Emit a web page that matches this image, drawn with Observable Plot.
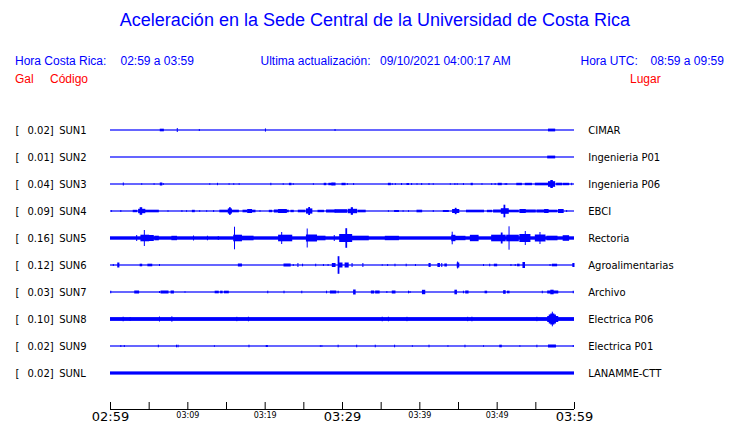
<!DOCTYPE html>
<html>
<head>
<meta charset="utf-8">
<script src="https://cdn.jsdelivr.net/npm/d3@7"></script>
<script src="https://cdn.jsdelivr.net/npm/@observablehq/plot@0.6"></script>
<style>
  html, body { margin: 0; padding: 0; background: #fff; }
  #page { position: relative; width: 740px; height: 423px; overflow: hidden; }
  #header { position: relative; width: 740px; height: 100px; font-family: "Liberation Sans", Arial, sans-serif; }
  #header div { position: absolute; white-space: pre; }
  #chart { height: 323px; }
  #chart svg { display: block; }
  .blue { color: #0000ff; font-size: 12px; line-height: 14px; }
  .red { color: #ff0000; font-size: 12px; line-height: 14px; }
  #title { color: #0000ff; font-size: 18px; line-height: 20px; left: 0; width: 750px; text-align: center; top: 10px; }
  #chart svg rect.burst, #chart svg rect.base { shape-rendering: crispEdges; }
</style>
</head>
<body>
<div id="page">
  <div id="header"></div>
  <div id="chart"></div>
</div>
<script>
// ---------- header texts ----------
const titleText = "Aceleración en la Sede Central de la Universidad de Costa Rica";
const localLabel = "Hora Costa Rica:";
const localRange = "02:59 a 03:59";
const updateLabel = "Ultima actualización:";
const updateValue = "09/10/2021 04:00:17 AM";
const utcLabel = "Hora UTC:";
const utcRange = "08:59 a 09:59";
const colHeaders = ["Gal", "Código", "Lugar"];

// ---------- station data ----------
const stations = ["SUN1","SUN2","SUN3","SUN4","SUN5","SUN6","SUN7","SUN8","SUN9","SUNL"];
const peakGal = [0.02, 0.01, 0.04, 0.09, 0.16, 0.12, 0.03, 0.10, 0.02, 0.02];
const places = ["CIMAR","Ingenieria P01","Ingenieria P06","EBCI","Rectoria","Agroalimentarias","Archivo","Electrica P06","Electrica P01","LANAMME-CTT"];
// background (noise) half amplitude of each trace, relative units
const baseAmp = [0.6, 0.6, 0.6, 0.6, 1.7, 0.6, 0.6, 1.9, 0.6, 1.6];

// bursts: [start minute, end minute, half amplitude]
const sun1 = [[6.5,6.9,1.3],[8.7,8.7,2],[11.55,11.55,1],[20.1,20.1,1.6],[29.1,29.1,1],[56.7,57.5,1.4]];
const sun2 = [[56.6,57.5,1.4]];
const sun3 = [[1.72,1.72,1.5],[4.1,4.1,0.8],[5.7,5.7,0.8],[6.5,6.7,1.5],[6.9,6.9,0.8],[12.9,12.9,0.8],[13.9,13.9,1.2],
  [15.4,15.4,0.8],[16.0,16.0,0.8],[16.7,16.7,0.8],[20.8,20.8,1.2],[22.4,22.4,0.8],[23.2,23.4,1.2],[23.7,23.7,0.8],
  [26.3,26.3,0.8],[27.7,27.9,1.2],[28.3,28.7,1.2],[28.7,29.1,1.5],[30.0,30.4,1.2],[30.7,30.7,0.8],[31.5,31.5,1],
  [36.0,36.25,1.2],[36.5,36.5,0.8],[36.9,36.9,0.8],[37.7,37.7,1],[38.4,38.6,1],[39.0,39.0,1],[39.7,39.7,0.8],
  [40.3,40.3,1],[41.25,41.25,1],[41.8,41.8,0.8],[44.0,44.0,0.8],[44.6,44.6,1],[44.9,44.9,0.8],[45.7,45.7,1],
  [46.7,46.85,1.2],[48.1,48.1,0.8],[49.35,49.35,0.8],[49.8,49.8,1],[50.2,50.6,1.2],[51.1,51.1,1],[51.3,51.3,1],
  [52.6,53.2,1.2],[53.7,54.5,1.2],[55.0,56.7,1.3],[56.7,57.5,2.8],[57.0,57.2,4],[57.75,58.4,1.3],[58.6,59.3,1.2],[59.7,59.7,1.2]];
const sun4 = [[0.2,0.2,0.8],[1.4,1.4,1],[3.0,3.45,1.2],[3.7,4.5,2.2],[3.9,4.1,3.8],[4.5,6.25,1.3],[7.5,7.5,0.8],
  [9.3,9.3,1],[9.9,9.9,0.8],[10.65,10.9,1.2],[11.6,11.6,0.8],[12.5,12.5,0.8],[13.4,13.4,1],[14.2,15.3,1.3],
  [15.3,15.7,2.6],[15.45,15.55,3.8],[15.7,16.6,1.3],[17.2,17.7,1.3],[17.8,18.3,2],[18.3,18.75,1.3],[19.4,19.4,0.8],
  [20.6,20.9,1.2],[21.25,21.8,1.5],[21.8,22.8,2],[22.8,23.05,1.3],[23.4,23.7,1.2],[24.35,25.2,1.3],[25.4,26.1,2.6],
  [25.7,25.8,4],[26.9,27.6,1.2],[28.0,29.1,1.5],[29.1,30.6,1.8],[30.8,31.9,2.2],[31.2,31.35,3.8],[32.1,33.0,1.3],
  [36.0,36.0,0.8],[36.8,37.3,1],[37.9,37.9,0.8],[38.6,38.6,0.8],[39.7,40.3,1.3],[41.8,41.8,1],[43.1,43.75,1],
  [44.3,45.1,2],[44.65,44.75,3.2],[46.1,48.3,1.3],[48.8,49.35,1.2],[49.6,50.6,1.5],[50.6,51.5,2.8],[50.95,51.05,6.3],
  [51.5,52.8,1.3],[53.0,53.7,2],[53.7,55.0,1.5],[55.2,56.7,1.5],[56.2,56.6,2],[56.7,57.8,1.3],[58.0,58.6,2],[59.05,59.05,1]];
const sun5 = [[3.45,3.45,3],[4.0,5.0,3.3],[4.44,4.44,8],[5.0,5.6,3],[5.8,6.25,2.3],[8.0,8.6,2.2],[10.8,10.8,2.5],
  [12.6,12.6,2.3],[14.0,14.0,2],[16.0,17.0,3.3],[16.1,16.1,11.3],[17.0,18.5,2.3],[21.8,23.5,3.3],[22.2,22.2,6],
  [25.4,26.7,3.5],[25.5,25.5,9.5],[26.7,27.8,2.3],[29.0,29.0,3],[29.7,31.25,4],[30.5,30.6,9.8],[31.25,33.4,2.3],
  [35.6,37.3,2.2],[44.2,44.6,3.2],[44.25,44.25,6.3],[44.6,45.9,2.2],[46.6,47.6,3.2],[49.35,51.1,3.3],[50.6,50.7,5.5],
  [51.6,51.6,11.7],[51.3,52.8,3.3],[53.0,54.3,4],[53.7,53.7,7],[55.0,56.25,3.5],[55.6,55.6,6],[56.5,57.8,2.3],[58.6,59.3,2.8]];
const sun6 = [[0.43,0.43,1],[1.0,1.15,2.5],[3.9,4.1,1.3],[4.9,5.4,1.3],[6.4,6.4,1],[16.6,17.0,1.5],[22.5,23.3,1.5],
  [23.7,23.7,1],[24.3,24.3,2],[24.9,24.9,1.3],[26.6,26.6,1.3],[27.6,27.6,1],[28.2,28.2,1],[28.75,29.1,2],
  [29.5,29.6,8.8],[29.6,30.0,2.5],[30.4,30.8,2.5],[31.3,31.3,2],[32.7,32.7,2],[35.2,35.2,0.8],[35.9,35.9,1],
  [36.85,36.85,1.3],[38.3,38.3,1.3],[39.5,39.5,1],[41.25,41.4,2],[42.4,42.6,2],[42.9,42.9,2],[43.3,43.5,1.5],
  [44.9,45.1,2.5],[44.95,44.95,3.5],[48.3,48.3,1],[49.1,49.1,1.3],[49.7,50.0,1.3],[51.85,51.85,1],[52.4,52.4,1],
  [52.7,52.9,1.3],[53.4,53.6,3],[56.9,56.9,1],[57.2,57.75,1.3],[59.85,60,2]];
const sun7 = [[0.1,0.1,1.3],[3.2,3.7,1.5],[6.4,6.4,1],[6.6,7.5,1.5],[7.9,8.2,1.5],[9.7,9.7,0.7],[13.6,14.0,1.3],
  [14.3,14.5,1.3],[14.8,15.3,1.3],[20.4,20.4,1.3],[22.5,22.5,1.3],[24.8,24.8,1.3],[28.0,28.0,1.3],[28.5,29.2,1.5],
  [29.5,29.5,1.3],[31.5,31.7,2.5],[33.8,34.1,1.5],[34.35,34.8,1.5],[35.8,35.8,1],[36.5,36.85,1.5],[38.6,38.6,1.3],
  [38.8,38.8,1],[40.4,40.7,2.2],[44.6,44.8,2.3],[45.7,45.7,1.3],[46.0,46.3,1.5],[48.5,48.7,1.3],[50.9,51.1,1.8],
  [51.4,51.6,1.3],[55.9,55.9,1.3],[56.6,57.9,1.5],[57.0,57.3,2.3],[59.9,59.9,1.3]];
const sun8 = [[1.7,1.7,2.3],[2.6,2.6,2],[6.4,6.4,2.5],[8.0,8.0,2.7],[16.4,16.4,2.2],[17.9,17.9,2.3],[35.2,35.2,2.3],
  [36.0,36.0,2.3],[38.4,38.4,2.2],[46.25,46.25,2.2],[46.8,46.8,2.3],[55.2,55.2,2.2],[56.6,57.9,3],[56.8,57.6,4.5],
  [57.0,57.4,5.5],[57.2,57.2,7.3]];
const sun9 = [[1.4,1.4,1],[1.85,1.85,1],[6.25,6.25,1.3],[8.6,8.6,1.3],[8.8,8.8,1.3],[13.5,13.5,0.8],[17.97,17.97,1.3],
  [20.2,20.35,1],[27.2,27.2,0.8],[27.4,27.4,0.8],[29.5,29.5,1.3],[31.9,31.9,1.3],[34.3,34.3,1.3],[36.8,36.8,1.3],
  [39.1,39.1,0.8],[41.25,41.25,1.3],[43.7,43.7,0.8],[45.9,45.9,1.3],[48.3,48.3,0.8],[50.4,50.6,1.3],[53.0,53.0,0.8],
  [55.2,55.2,1.3],[56.7,57.6,1.5],[59.9,59.9,1]];
const sunl = [];
const bursts = [sun1, sun2, sun3, sun4, sun5, sun6, sun7, sun8, sun9, sunl];

// time axis (minutes after 02:59)
const timeSpan = [0, 60];
const tickMinutes = [0,5,10,15,20,25,30,35,40,45,50,55,60];
const majorTicks = [0, 30, 60];
const majorLabels = ["02:59", "03:29", "03:59"];
const minorTicks = [10, 20, 40, 50];
const minorLabels = ["03:09", "03:19", "03:39", "03:49"];

// ---------- header ----------
const header = document.getElementById("header");
function addText(cls, text, left, top) {
  const d = document.createElement("div");
  d.className = cls; d.textContent = text;
  d.style.left = left + "px"; d.style.top = top + "px";
  header.appendChild(d);
}
const t = document.createElement("div");
t.id = "title"; t.textContent = titleText; header.appendChild(t);
addText("blue", localLabel, 15, 54);
addText("blue", localRange, 120.5, 54);
addText("blue", updateLabel, 260.5, 54);
addText("blue", updateValue, 380, 54);
addText("blue", utcLabel, 580.5, 54);
addText("blue", utcRange, 650.5, 54);
addText("red", colHeaders[0], 15, 72);
addText("red", colHeaders[1], 50, 72);
addText("red", colHeaders[2], 630, 72);

// ---------- chart ----------
const rowPx = 27;                       // amplitude units per row spacing
const axisRow = stations.length - 1 + 36 / rowPx;
const rows = stations.map((s, i) => ({code: s, i, gal: peakGal[i], place: places[i], base: baseAmp[i] / rowPx}));
const burstRows = bursts.flatMap((list, i) => list.map(([a, b, amp]) => ({i, a, b, h: amp / rowPx})));
const ticks = tickMinutes.map(m => ({m}));
const majors = majorTicks.map((m, k) => ({m, label: majorLabels[k]}));
const minors = minorTicks.map((m, k) => ({m, label: minorLabels[k]}));

const font = "DejaVu Sans, sans-serif";
const blue = "#0000ff";

const chart = Plot.plot({
  width: 740,
  height: 323,
  marginLeft: 110,
  marginRight: 166,
  marginTop: 30,
  marginBottom: 14,
  style: {fontFamily: font, background: "white", overflow: "visible"},
  x: {domain: timeSpan, axis: null},
  y: {domain: [0, axisRow], reverse: true, axis: null},
  marks: [
    Plot.rect(rows, {x1: timeSpan[0], x2: timeSpan[1], y1: d => d.i - d.base, y2: d => d.i + d.base, fill: blue, className: "base"}),
    Plot.rect(burstRows, {x1: "a", x2: "b", y1: d => d.i - d.h, y2: d => d.i + d.h, fill: blue, insetLeft: -0.5, insetRight: -0.5, className: "burst"}),
    Plot.text(rows, {y: "i", frameAnchor: "left", lineAnchor: "middle", text: () => "[", dx: -95, textAnchor: "start", fontSize: 10, fill: "black"}),
    Plot.text(rows, {y: "i", frameAnchor: "left", lineAnchor: "middle", text: d => d.gal.toFixed(2) + "]", dx: -83, textAnchor: "start", fontSize: 10, fill: "black"}),
    Plot.text(rows, {y: "i", frameAnchor: "left", lineAnchor: "middle", text: "code", dx: -51.3, textAnchor: "start", fontSize: 10, fill: "black"}),
    Plot.text(rows, {y: "i", frameAnchor: "right", lineAnchor: "middle", text: "place", dx: 13.7, textAnchor: "start", fontSize: 10, fill: "black"}),
    Plot.ruleY([axisRow], {x1: timeSpan[0], x2: timeSpan[1], stroke: "black", strokeWidth: 1}),
    Plot.ruleX(ticks, {x: "m", y1: axisRow - 7 / rowPx, y2: axisRow, stroke: "black", strokeWidth: 1}),
    Plot.text(majors, {x: "m", text: "label", frameAnchor: "bottom", lineAnchor: "middle", dy: 7, fontSize: 13, fill: "black"}),
    Plot.text(minors, {x: "m", text: "label", frameAnchor: "bottom", lineAnchor: "middle", dy: 6, fontSize: 8, fill: "black"})
  ]
});
document.getElementById("chart").appendChild(chart);
</script>
</body>
</html>
